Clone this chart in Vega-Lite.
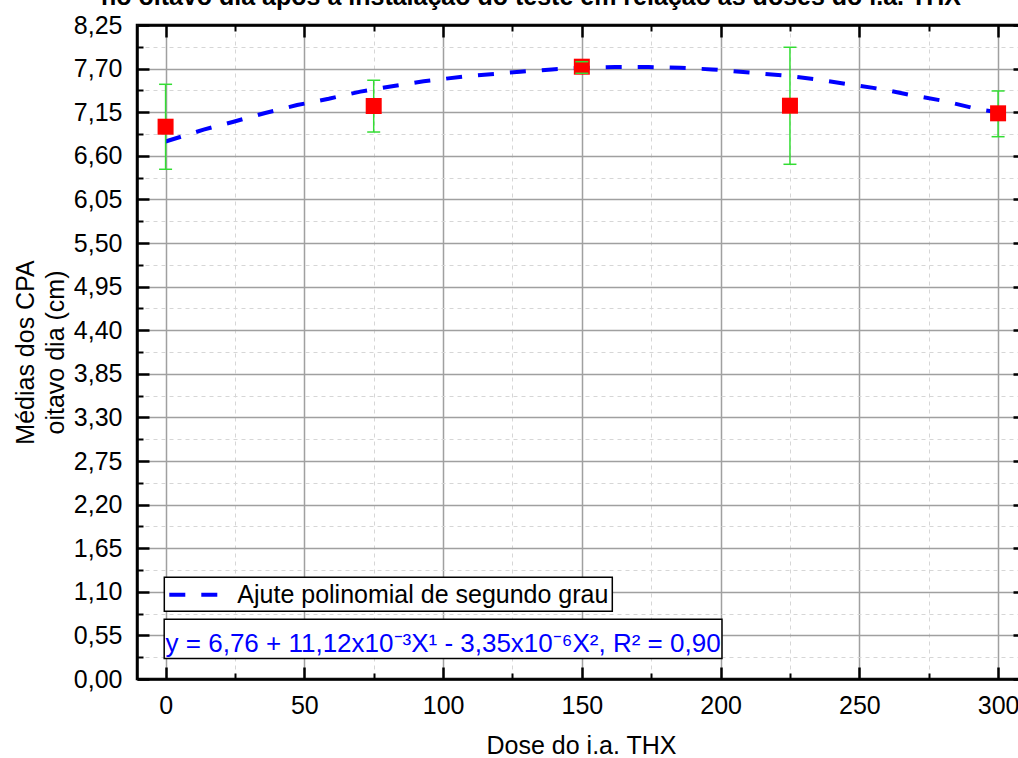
{
  "$schema": "https://vega.github.io/schema/vega-lite/v6.json",
  "autosize": {"type": "none"},
  "padding": {"left": 137, "top": 25, "right": -7, "bottom": 79},
  "width": 888,
  "height": 654,
  "title": {
    "text": "no oitavo dia após a instalação do teste em relação às doses do i.a. THX",
    "fontSize": 25, "fontWeight": "bold", "font": "Liberation Sans", "color": "black",
    "anchor": "middle", "frame": "group", "dx": -50, "dy": 18, "offset": 1, "baseline": "alphabetic"
  },
  "datasets": {
    "fit": [
      {"x": 0, "y": 6.78, "serie": "Ajute polinomial de segundo grau"},
      {"x": 13.7, "y": 6.93, "serie": "Ajute polinomial de segundo grau"},
      {"x": 24.5, "y": 7.03, "serie": "Ajute polinomial de segundo grau"},
      {"x": 35.9, "y": 7.14, "serie": "Ajute polinomial de segundo grau"},
      {"x": 47.4, "y": 7.24, "serie": "Ajute polinomial de segundo grau"},
      {"x": 58.8, "y": 7.32, "serie": "Ajute polinomial de segundo grau"},
      {"x": 70.2, "y": 7.41, "serie": "Ajute polinomial de segundo grau"},
      {"x": 82.2, "y": 7.48, "serie": "Ajute polinomial de segundo grau"},
      {"x": 93.0, "y": 7.54, "serie": "Ajute polinomial de segundo grau"},
      {"x": 110.0, "y": 7.61, "serie": "Ajute polinomial de segundo grau"},
      {"x": 127.8, "y": 7.66, "serie": "Ajute polinomial de segundo grau"},
      {"x": 139.2, "y": 7.69, "serie": "Ajute polinomial de segundo grau"},
      {"x": 150.6, "y": 7.71, "serie": "Ajute polinomial de segundo grau"},
      {"x": 162.0, "y": 7.72, "serie": "Ajute polinomial de segundo grau"},
      {"x": 174.1, "y": 7.72, "serie": "Ajute polinomial de segundo grau"},
      {"x": 185.5, "y": 7.71, "serie": "Ajute polinomial de segundo grau"},
      {"x": 196.9, "y": 7.69, "serie": "Ajute polinomial de segundo grau"},
      {"x": 210.6, "y": 7.65, "serie": "Ajute polinomial de segundo grau"},
      {"x": 223.9, "y": 7.61, "serie": "Ajute polinomial de segundo grau"},
      {"x": 235.3, "y": 7.56, "serie": "Ajute polinomial de segundo grau"},
      {"x": 246.7, "y": 7.50, "serie": "Ajute polinomial de segundo grau"},
      {"x": 258.2, "y": 7.44, "serie": "Ajute polinomial de segundo grau"},
      {"x": 269.5, "y": 7.36, "serie": "Ajute polinomial de segundo grau"},
      {"x": 280.9, "y": 7.29, "serie": "Ajute polinomial de segundo grau"},
      {"x": 292.4, "y": 7.19, "serie": "Ajute polinomial de segundo grau"},
      {"x": 300, "y": 7.15, "serie": "Ajute polinomial de segundo grau"}
    ],
    "pts": [
      {"x": 0, "y": 6.967, "lo": 6.430, "hi": 7.502},
      {"x": 75, "y": 7.228, "lo": 6.900, "hi": 7.553},
      {"x": 150, "y": 7.724, "lo": 7.641, "hi": 7.787},
      {"x": 225, "y": 7.232, "lo": 6.493, "hi": 7.969},
      {"x": 300, "y": 7.136, "lo": 6.841, "hi": 7.418}
    ],
    "eqbox": [{"x1": -0.5, "x2": 200.5, "y1": 0.26, "y2": 0.753}],
    "eqtext": [{"x": 0, "y": 0.345, "label": "y = 6,76 + 11,12x10⁻³X¹ - 3,35x10⁻⁶X², R² = 0,90"}]
  },
  "layer": [
    {
      "data": {"name": "fit"},
      "mark": {"type": "line", "strokeWidth": 4, "strokeDash": [16, 16]},
      "encoding": {
        "x": {"field": "x", "type": "quantitative",
          "scale": {"domain": [-10.3, 309.7], "nice": false, "zero": false},
          "axis": {"orient": "bottom", "values": [0, 50, 100, 150, 200, 250, 300], "title": "Dose do i.a. THX",
            "grid": true, "gridColor": "#a0a0a0", "gridWidth": 1.5,
            "tickSize": -12, "tickWidth": 2.5, "tickColor": "black",
            "domainColor": "black", "domainWidth": 2.5,
            "labelFontSize": 25, "labelColor": "black", "labelPadding": 26, "labelFont": "Liberation Sans",
            "titleFontSize": 25, "titleFontWeight": "normal", "titleColor": "black", "titlePadding": 15, "titleFont": "Liberation Sans"}},
        "y": {"field": "y", "type": "quantitative",
          "scale": {"domain": [0, 8.25], "nice": false, "zero": false},
          "axis": {"orient": "left", "values": [0, 0.55, 1.1, 1.65, 2.2, 2.75, 3.3, 3.85, 4.4, 4.95, 5.5, 6.05, 6.6, 7.15, 7.7, 8.25],
            "labelExpr": "replace(format(datum.value, '.2f'), '.', ',')",
            "title": ["Médias dos CPA", "oitavo dia (cm)"],
            "grid": true, "gridColor": "#a0a0a0", "gridWidth": 1.5,
            "tickSize": -12, "tickWidth": 2.5, "tickColor": "black",
            "domainColor": "black", "domainWidth": 2.5,
            "labelFontSize": 25, "labelColor": "black", "labelPadding": 27, "labelFont": "Liberation Sans",
            "titleFontSize": 25, "titleFontWeight": "normal", "titleColor": "black", "titlePadding": 5, "titleLineHeight": 30, "titleFont": "Liberation Sans"}},
        "color": {"field": "serie", "type": "nominal",
          "scale": {"range": ["#0000ff"]},
          "legend": {"orient": "none", "legendX": 27.3, "legendY": 552.3, "title": null,
            "symbolType": "M-1,0H3", "symbolSize": 625, "symbolStrokeWidth": 4, "symbolDash": [16, 16],
            "symbolFillColor": "transparent",
            "labelFontSize": 25, "labelFont": "Liberation Sans", "labelColor": "black", "labelOffset": 41, "labelLimit": 0,
            "padding": 3, "strokeColor": "black", "fillColor": "white"}}
      }
    },
    {
      "data": {"name": "pts"},
      "mark": {"type": "rule", "color": "#33dd33", "strokeWidth": 1.5},
      "encoding": {
        "x": {"field": "x", "type": "quantitative",
          "scale": {"domain": [-10.3, 309.7], "nice": false, "zero": false},
          "axis": {"orient": "bottom", "values": [25, 75, 125, 175, 225, 275], "title": null, "labels": false, "domain": false,
            "grid": true, "gridColor": "#d6d6d6", "gridWidth": 1, "gridDash": [4, 4],
            "tickSize": -6, "tickWidth": 2, "tickColor": "black"}},
        "y": {"field": "lo", "type": "quantitative",
          "scale": {"domain": [0, 8.25], "nice": false, "zero": false},
          "axis": {"orient": "left", "values": [0.275, 0.825, 1.375, 1.925, 2.475, 3.025, 3.575, 4.125, 4.675, 5.225, 5.775, 6.325, 6.875, 7.425, 7.975],
            "title": null, "labels": false, "domain": false,
            "grid": true, "gridColor": "#d6d6d6", "gridWidth": 1, "gridDash": [4, 4],
            "tickSize": -6, "tickWidth": 2, "tickColor": "black"}},
        "y2": {"field": "hi"}
      }
    },
    {
      "data": {"name": "pts"},
      "mark": {"type": "point", "shape": "square", "filled": true, "size": 256, "color": "#ff0000", "opacity": 1},
      "encoding": {
        "x": {"field": "x", "type": "quantitative",
          "scale": {"domain": [-10.3, 309.7], "nice": false, "zero": false},
          "axis": {"orient": "top", "values": [0, 50, 100, 150, 200, 250, 300], "title": null, "labels": false, "grid": false,
            "tickSize": -12, "tickWidth": 2.5, "tickColor": "black", "domainColor": "black", "domainWidth": 2.5}},
        "y": {"field": "y", "type": "quantitative",
          "scale": {"domain": [0, 8.25], "nice": false, "zero": false},
          "axis": {"orient": "right", "values": [0, 0.55, 1.1, 1.65, 2.2, 2.75, 3.3, 3.85, 4.4, 4.95, 5.5, 6.05, 6.6, 7.15, 7.7, 8.25],
            "title": null, "labels": false, "grid": false,
            "tickSize": -12, "tickWidth": 2.5, "tickColor": "black", "domainColor": "black", "domainWidth": 2.5}}
      }
    },
    {
      "data": {"name": "pts"},
      "transform": [{"fold": ["lo", "hi"], "as": ["k", "v"]}],
      "mark": {"type": "tick", "orient": "horizontal", "size": 13, "thickness": 1.5, "color": "#33dd33", "opacity": 1},
      "encoding": {
        "x": {"field": "x", "type": "quantitative",
          "scale": {"domain": [-10.3, 309.7], "nice": false, "zero": false},
          "axis": {"orient": "top", "values": [25, 75, 125, 175, 225, 275], "title": null, "labels": false, "domain": false, "grid": false,
            "tickSize": -6, "tickWidth": 2, "tickColor": "black"}},
        "y": {"field": "v", "type": "quantitative",
          "scale": {"domain": [0, 8.25], "nice": false, "zero": false},
          "axis": {"orient": "right", "values": [0.275, 0.825, 1.375, 1.925, 2.475, 3.025, 3.575, 4.125, 4.675, 5.225, 5.775, 6.325, 6.875, 7.425, 7.975],
            "title": null, "labels": false, "domain": false, "grid": false,
            "tickSize": -6, "tickWidth": 2, "tickColor": "black"}}
      }
    },
    {
      "data": {"name": "eqbox"},
      "mark": {"type": "rect", "fill": "white", "stroke": "black", "strokeWidth": 1.5},
      "encoding": {
        "x": {"field": "x1", "type": "quantitative", "scale": {"domain": [-10.3, 309.7], "nice": false, "zero": false}, "axis": null},
        "x2": {"field": "x2"},
        "y": {"field": "y1", "type": "quantitative", "scale": {"domain": [0, 8.25], "nice": false, "zero": false}, "axis": null},
        "y2": {"field": "y2"}
      }
    },
    {
      "data": {"name": "eqtext"},
      "mark": {"type": "text", "align": "left", "baseline": "alphabetic", "fontSize": 26, "font": "Liberation Sans", "color": "#0000ff"},
      "encoding": {
        "x": {"field": "x", "type": "quantitative", "scale": {"domain": [-10.3, 309.7], "nice": false, "zero": false}, "axis": null},
        "y": {"field": "y", "type": "quantitative", "scale": {"domain": [0, 8.25], "nice": false, "zero": false}, "axis": null},
        "text": {"field": "label"}
      }
    }
  ],
  "resolve": {"axis": {"x": "independent", "y": "independent"}},
  "config": {
    "font": "Liberation Sans",
    "view": {"stroke": "black", "strokeWidth": 2.5},
    "legend": {"strokeWidth": 1.5}
  }
}
